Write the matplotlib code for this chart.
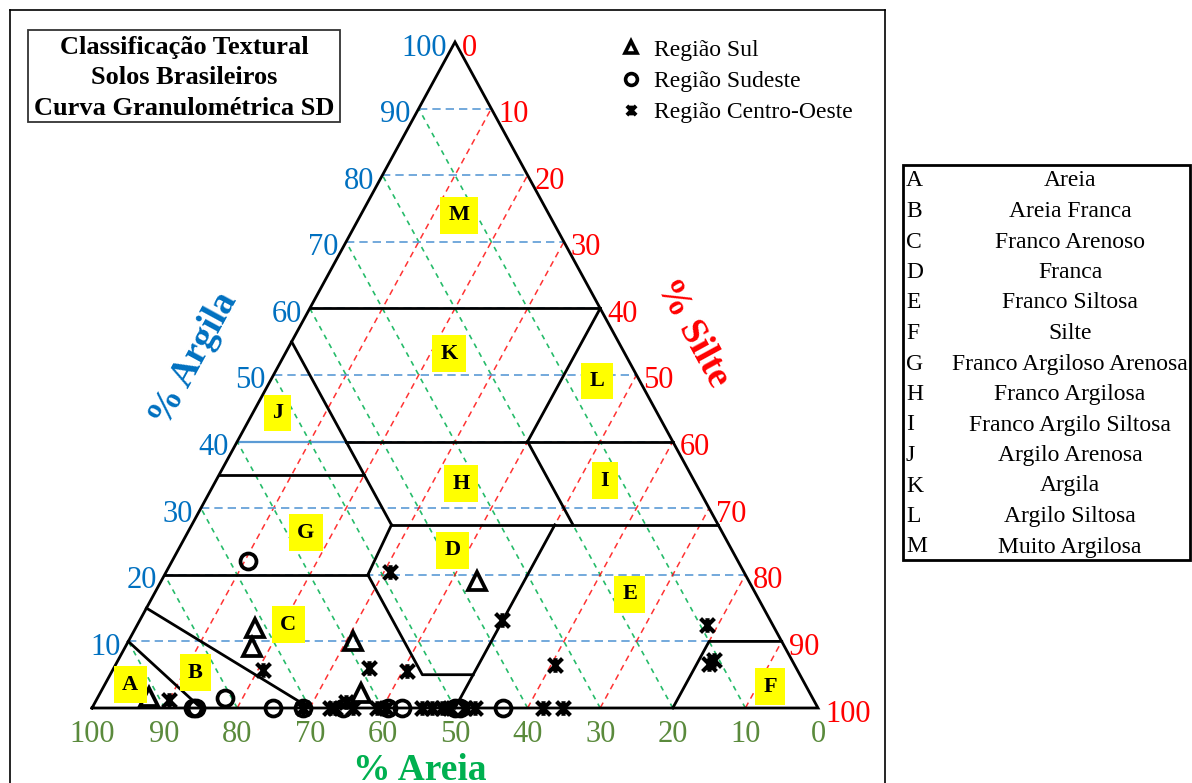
import matplotlib
matplotlib.use("Agg")
import numpy as np
import matplotlib.pyplot as plt
from matplotlib.path import Path
from matplotlib.lines import Line2D
from matplotlib.patches import Rectangle

plt.rcParams['font.family'] = ['Liberation Serif', 'DejaVu Serif']

W, H = 1192, 783
# where the ternary triangle sits on the canvas (pixels)
X_LEFT, X_RIGHT, Y_BASE, Y_APEX = 92, 818, 708, 42

# ---------------------------------------------------------------- samples
# clay and silt in %, sand is the remainder
sul_clay = [19, 10, 2.2, 12, 9.2, 1.7]
sul_silt = [43.5, 31, 36, 16.5, 17.4, 7.0]

sudeste_clay = [22, 1.5, 0, 0, 0, 0, 0, 0, 0, 0, 0, 0]
sudeste_silt = [10.5, 17.6, 13.9, 14.3, 24.9, 29.1, 34.6, 40.8, 42.7, 50.0, 50.7, 56.6]

co_clay = [20.4, 13.2, 6.0, 5.6, 6.5, 12.5, 6.6, 7.2, 5.7, 1.2, 0.9,
           0, 0, 0, 0, 0, 0, 0, 0, 0, 0, 0, 0, 0, 0]
co_silt = [30.8, 49.9, 35.2, 40.6, 60.5, 78.5, 81.7, 82.1, 20.7, 10.0, 34.6,
           29.1, 32.8, 33.5, 35.9, 39.3, 40.5, 45.5, 46.8, 48.2, 49.3, 51.4, 52.8,
           62.1, 64.9]

# ---------------------------------------------------------------- classes
# boundary polylines as (clay, silt) vertices
boundaries = [
    [(60, 0), (60, 40)],
    [(60, 40), (40, 40)],
    [(40, 15), (40, 60)],
    [(55, 0), (40, 15), (35, 20), (27.5, 27.5)],
    [(35, 0), (35, 20)],
    [(27.5, 27.5), (27.5, 72.5)],
    [(40, 40), (27.5, 52.5)],
    [(20, 0), (20, 28)],
    [(27.5, 27.5), (20, 28), (5, 43), (5, 50)],
    [(27.5, 50), (0, 50)],
    [(0, 80), (10, 80), (10, 90)],
    [(15, 0), (0, 30)],
    [(10, 0), (0, 15)],
]

class_letters = ['A', 'B', 'C', 'D', 'E', 'F', 'G', 'H', 'I', 'J', 'K', 'L', 'M']
class_names = ['Areia', 'Areia Franca', 'Franco Arenoso', 'Franca', 'Franco Siltosa',
               'Silte', 'Franco Argiloso Arenosa', 'Franco Argilosa',
               'Franco Argilo Siltosa', 'Argilo Arenosa', 'Argila', 'Argilo Siltosa',
               'Muito Argilosa']
# where each letter tag goes (clay, silt)
tag_clay = [3.5, 5.3, 12.5, 23.7, 17.1, 3.2, 26.3, 33.7, 34.1, 44.3, 53.2, 49.1, 74.0]
tag_silt = [3.5, 11.6, 20.8, 37.8, 65.5, 91.8, 16.3, 34.0, 53.6, 3.4, 22.6, 45.0, 13.5]

ticks = list(range(0, 101, 10))

BLUE, RED, GREEN, GREEN_T = '#0070C0', '#FF0000', '#00B050', '#5A8A3C'


def tern(clay, silt):
    return silt + np.asarray(clay) / 2.0, clay


def px2fig(x, y):
    return x / W, 1 - y / H


fig = plt.figure(figsize=(W / 100, H / 100), dpi=100)
ax = fig.add_axes([0, 0, 1, 1])
sx = (X_RIGHT - X_LEFT) / 100.0
sy = (Y_BASE - Y_APEX) / 100.0
ax.set_xlim(-X_LEFT / sx, (W - X_LEFT) / sx)
ax.set_ylim((Y_BASE - H) / sy, Y_BASE / sy)
ax.axis('off')

# dashed guide lines
for v in ticks[1:-1]:
    if v == 40:
        ax.plot(*zip(tern(40, 0), tern(40, 15)), color='#5B9BD5', lw=1.6, zorder=1)
    ax.plot(*zip(tern(v, 0), tern(v, 100 - v)), color='#5B9BD5', lw=1.2,
            dashes=(5, 3), zorder=1)
    ax.plot(*zip(tern(0, 100 - v), tern(100 - v, 0)), color=GREEN, lw=1.2,
            dashes=(3, 3), alpha=0.85, zorder=1)
    ax.plot(*zip(tern(0, v), tern(100 - v, v)), color=RED, lw=1.1,
            dashes=(4, 3), alpha=0.8, zorder=1)

# triangle and class boundaries
outline = [(0, 0), (100, 0), (0, 100), (0, 0)]
ax.plot(*zip(*[tern(c, s) for c, s in outline]), color='black', lw=2.0, zorder=3,
        solid_joinstyle='miter')
for poly in boundaries:
    ax.plot(*zip(*[tern(c, s) for c, s in poly]), color='black', lw=2.0, zorder=3)

# axis numbers
for v in ticks:
    if v > 0:
        ax.annotate(str(v), xy=tern(v, 0), xytext=(-8, -6), textcoords='offset pixels',
                    ha='right', va='center', fontsize=22, color=BLUE)
    ax.annotate(str(v), xy=tern(100 - v, v), xytext=(7, -6), textcoords='offset pixels',
                ha='left', va='center', fontsize=22, color=RED)
    ax.annotate(str(v), xy=tern(0, 100 - v), xytext=(0, -27), textcoords='offset pixels',
                ha='center', va='center', fontsize=22, color=GREEN_T)

ax.text(*tern(52.3, -12.2), '% Argila', rotation=61.4, rotation_mode='anchor',
        ha='center', va='center', fontsize=27, fontweight='bold', color=BLUE)
ax.text(*tern(56.3, 54.6), '% Silte', rotation=-61.4, rotation_mode='anchor',
        ha='center', va='center', fontsize=27, fontweight='bold', color=RED)
fig.text(*px2fig(420, 771), '% Areia', ha='center', va='center', fontsize=27,
         fontweight='bold', color=GREEN)

# class tags
for lt, c, s in zip(class_letters, tag_clay, tag_silt):
    ax.text(*tern(c, s), lt, ha='center', va='center', fontsize=16, fontweight='bold',
            zorder=6, bbox=dict(boxstyle='square,pad=0.38', fc='#FFFF00', ec='none'))

# samples
star = Path([(-1, -1), (1, 1), (-1, 1), (1, -1), (0, -1.05), (0, 1.05)],
            [Path.MOVETO, Path.LINETO] * 3)
mk = dict(ls='none', mfc='none', mec='black', zorder=5)
ax.plot(*tern(sul_clay, np.array(sul_silt)), marker='^', ms=13, mew=2.7, **mk)
ax.plot(*tern(sudeste_clay, np.array(sudeste_silt)), marker='o', ms=11.5, mew=2.7, **mk)
ax.plot(*tern(co_clay, np.array(co_silt)), marker=star, ms=10.5, mew=3.0, **mk)

# legend
handles = [Line2D([], [], marker='^', ms=8.5, mew=2.6, **mk),
           Line2D([], [], marker='o', ms=8.5, mew=2.6, **mk),
           Line2D([], [], marker=star, ms=7, mew=2.8, **mk)]
fig.legend(handles, ['Região Sul', 'Região Sudeste', 'Região Centro-Oeste'],
           loc='upper left', bbox_to_anchor=px2fig(619, 39), frameon=False,
           fontsize=17, handlelength=1.0, handletextpad=0.5, labelspacing=0.42,
           borderpad=0, borderaxespad=0)

# title box
fig.patches.append(Rectangle(px2fig(28, 122), 312 / W, 92 / H, transform=fig.transFigure,
                             fill=False, ec='#333333', lw=1.3))
fig.text(*px2fig(184, 78), 'Classificação Textural\nSolos Brasileiros\nCurva Granulométrica SD',
         ha='center', va='center', fontsize=19, fontweight='bold', linespacing=1.4)

# class table
fig.patches.append(Rectangle(px2fig(903, 560), 287 / W, 395 / H, transform=fig.transFigure,
                             fill=False, ec='black', lw=2.0))
for i, (lt, name) in enumerate(zip(class_letters, class_names)):
    yy = 181 + i * 30.5
    fig.text(*px2fig(906, yy), lt, ha='left', va='center', fontsize=17)
    fig.text(*px2fig(1070, yy), name, ha='center', va='center', fontsize=17)

# outer frame
for xs, ys in [((10, 885), (10, 10)), ((10, 10), (10, 783)), ((885, 885), (10, 783))]:
    fig.lines.append(Line2D([x / W for x in xs], [1 - y / H for y in ys],
                            transform=fig.transFigure, color='black', lw=1.2))

fig.savefig('out.png', dpi=100)
